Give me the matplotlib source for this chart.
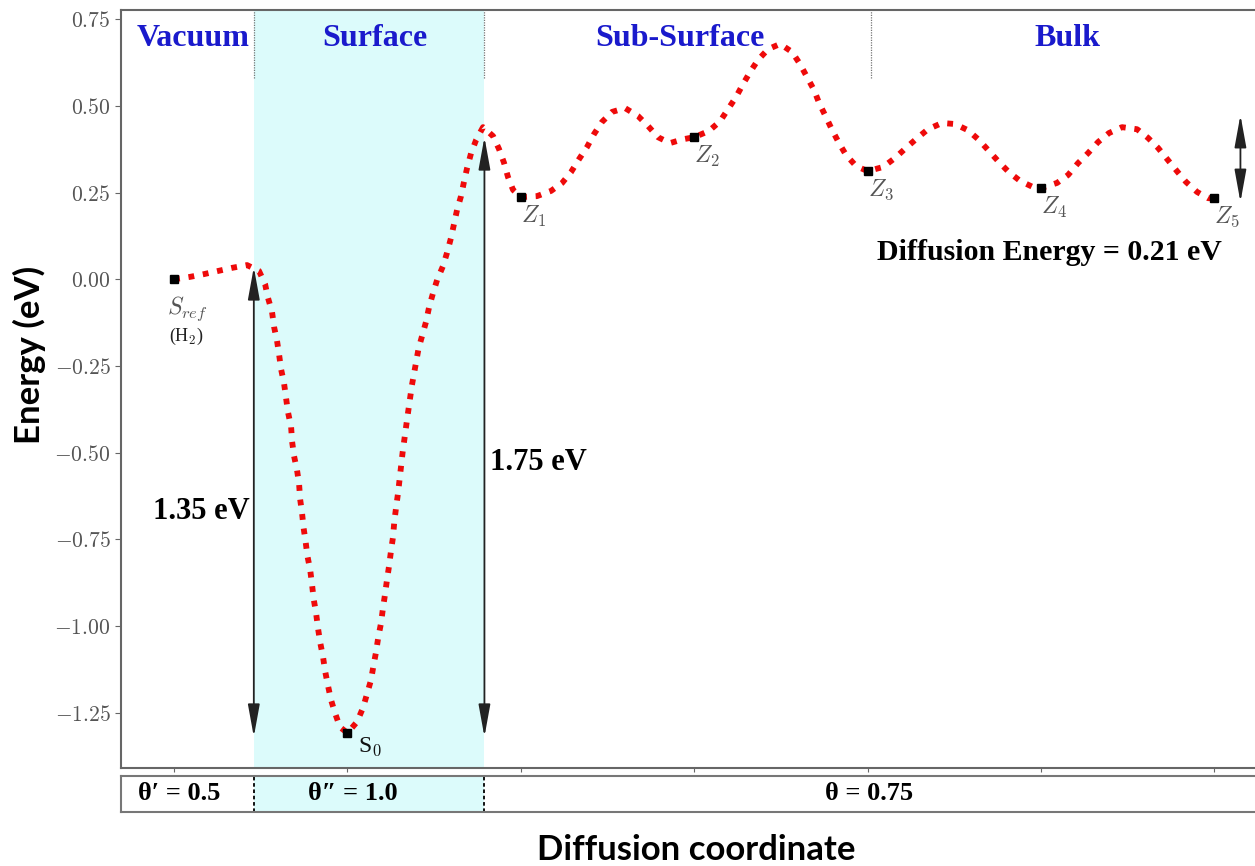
import matplotlib.pyplot as plt
from matplotlib.ticker import FuncFormatter

plt.rcParams['mathtext.fontset'] = 'cm'

# energy path (diffusion coordinate, energy in eV)
path_x = [0.0, 0.092, 0.173, 0.254, 0.334, 0.421, 0.490, 0.525, 0.542, 0.565,
          0.577, 0.594, 0.606, 0.617, 0.634, 0.646, 0.657, 0.675, 0.681, 0.692,
          0.709, 0.721, 0.727, 0.738, 0.747, 0.759, 0.769, 0.785, 0.796, 0.805,
          0.819, 0.830, 0.842, 0.859, 0.871, 0.888, 0.905, 0.928, 0.957, 1.0,
          1.055, 1.090, 1.113, 1.136, 1.150, 1.165, 1.178, 1.194, 1.205, 1.217,
          1.228, 1.240, 1.251, 1.263, 1.270, 1.280, 1.292, 1.318, 1.345, 1.372,
          1.410, 1.432, 1.453, 1.471, 1.494, 1.517, 1.551, 1.574, 1.597, 1.615,
          1.632, 1.655, 1.672, 1.690, 1.713, 1.742, 1.782, 1.840, 1.874, 1.903,
          1.926, 1.955, 2.0, 2.093, 2.174, 2.238, 2.289, 2.336, 2.382, 2.422,
          2.468, 2.526, 2.601, 2.676, 2.734, 2.791, 2.860, 2.935, 3.0, 3.085,
          3.149, 3.195, 3.241, 3.281, 3.322, 3.368, 3.426, 3.495, 3.564, 3.610,
          3.651, 3.691, 3.720, 3.760, 3.795, 3.835, 3.875, 3.933, 4.0, 4.089,
          4.158, 4.221, 4.285, 4.348, 4.429, 4.504, 4.579, 4.642, 4.700, 4.758,
          4.815, 4.879, 4.954, 5.0, 5.092, 5.156, 5.213, 5.271, 5.329, 5.392,
          5.467, 5.554, 5.617, 5.675, 5.727, 5.784, 5.836, 5.900, 5.963, 6.0]
path_y = [0.0, 0.007, 0.015, 0.024, 0.033, 0.041, 0.024, -0.014, -0.054, -0.094,
          -0.138, -0.178, -0.218, -0.259, -0.299, -0.342, -0.383, -0.426, -0.469, -0.510,
          -0.550, -0.590, -0.634, -0.674, -0.717, -0.758, -0.798, -0.838, -0.882, -0.922,
          -0.963, -1.006, -1.046, -1.089, -1.130, -1.173, -1.213, -1.251, -1.292, -1.309,
          -1.277, -1.236, -1.196, -1.156, -1.115, -1.075, -1.032, -0.991, -0.948, -0.908,
          -0.867, -0.827, -0.784, -0.743, -0.700, -0.660, -0.616, -0.500, -0.400, -0.305,
          -0.200, -0.160, -0.123, -0.080, -0.039, -0.002, 0.038, 0.076, 0.119, 0.160,
          0.200, 0.240, 0.281, 0.321, 0.364, 0.402, 0.439, 0.413, 0.376, 0.336,
          0.295, 0.258, 0.237, 0.240, 0.255, 0.278, 0.309, 0.347, 0.382, 0.419,
          0.454, 0.483, 0.494, 0.471, 0.442, 0.410, 0.393, 0.404, 0.410, 0.428,
          0.456, 0.491, 0.526, 0.563, 0.598, 0.633, 0.664, 0.679, 0.656, 0.621,
          0.583, 0.546, 0.509, 0.468, 0.431, 0.393, 0.359, 0.327, 0.312, 0.324,
          0.350, 0.379, 0.407, 0.433, 0.451, 0.448, 0.430, 0.402, 0.370, 0.338,
          0.309, 0.284, 0.266, 0.263, 0.278, 0.301, 0.335, 0.364, 0.396, 0.422,
          0.439, 0.433, 0.408, 0.379, 0.347, 0.312, 0.281, 0.252, 0.234, 0.234]

# stationary states
state_x = [0, 1, 2, 3, 4, 5, 6]
state_y = [0.0, -1.309, 0.237, 0.410, 0.312, 0.263, 0.234]
z_labels = ['$Z_1$', '$Z_2$', '$Z_3$', '$Z_4$', '$Z_5$']

# regions
region_edges = [0.46, 1.79, 4.02]
region_names = ['Vacuum', 'Surface', 'Sub-Surface', 'Bulk']
region_centers = [0.11, 1.16, 2.92, 5.15]
coverage_labels = ["\u03b8\u2032 = 0.5", "\u03b8\u2033 = 1.0", "\u03b8 = 0.75"]
coverage_centers = [0.03, 1.03, 4.01]

# energy arrows
barrier_vac = (0.46, 0.035, -1.32)
barrier_sub = (1.79, 0.41, -1.32)
diffusion = (6.15, 0.474, 0.223)

serif = ['Liberation Serif', 'DejaVu Serif']
sans = ['Lato', 'DejaVu Sans']
blue = '#1a1acc'
grey = '#555555'

fig = plt.figure(figsize=(12.55, 8.66), dpi=100)
ax = fig.add_axes([121 / 1255, 1 - 768 / 866, 1134 / 1255, 758 / 866])
ax2 = fig.add_axes([121 / 1255, 1 - 812 / 866, 1134 / 1255, 36 / 866])

ax.set_xlim(-0.306, 6.234)
ax.set_ylim(-1.41, 0.777)

ax.axvspan(region_edges[0], region_edges[1], color='#dcfbfb', zorder=0, lw=0)
for xe in region_edges:
    ax.plot([xe, xe], [0.58, 0.777], color='#777777', lw=0.9, ls=(0, (1, 1)))

ax.plot(path_x, path_y, color='#ee0a0a', lw=4.2, ls=(0, (1, 1.5)),
        dash_capstyle='butt', zorder=3)
ax.plot(state_x, state_y, 's', color='black', ms=5.5, zorder=4)

for name, xc in zip(region_names, region_centers):
    ax.text(xc, 0.695, name, color=blue, fontsize=23, fontweight='bold',
            family=serif, ha='center', va='center')

# state labels
ax.text(-0.04, -0.085, '$S_{ref}$', color=grey, fontsize=17, ha='left', va='center')
ax.text(-0.03, -0.165, '(H$_2$)', color='#222222', fontsize=13, family=serif,
        ha='left', va='center')
ax.text(1.06, -1.35, 'S$_0$', color='#111111', fontsize=17, family=serif,
        ha='left', va='center')
for xz, yz, lab in zip(state_x[2:], state_y[2:], z_labels):
    ax.annotate(lab, (xz, yz), xytext=(0, -5), textcoords='offset points',
                color=grey, fontsize=17, ha='left', va='top')

# arrows
arrow_kw = dict(arrowstyle='<|-|>,head_length=1.1,head_width=0.2',
                color='#222222', lw=1.3, shrinkA=0, shrinkB=0, mutation_scale=18)
for xa, ytop, ybot in [barrier_vac, barrier_sub, diffusion]:
    ax.annotate('', xy=(xa, ytop), xytext=(xa, ybot), arrowprops=arrow_kw)

ax.text(0.16, -0.67, '1.35 eV', fontsize=22, fontweight='bold', family=serif,
        ha='center', va='center')
ax.text(2.10, -0.53, '1.75 eV', fontsize=22, fontweight='bold', family=serif,
        ha='center', va='center')
ax.text(5.05, 0.078, 'Diffusion Energy = 0.21 eV', fontsize=21.5, fontweight='bold',
        family=serif, ha='center', va='center')

ax.set_xticks(state_x)
ax.set_xticklabels([])
ax.set_yticks([0.75, 0.5, 0.25, 0.0, -0.25, -0.5, -0.75, -1.0, -1.25])
ax.yaxis.set_major_formatter(FuncFormatter(lambda v, p: f'${v:.2f}$'))
ax.tick_params(axis='y', labelsize=15.5, labelcolor=grey, color='#666666', length=4)
ax.tick_params(axis='x', color='#666666', length=3)
for side in ['left', 'bottom', 'top']:
    ax.spines[side].set_color('#666666')
    ax.spines[side].set_linewidth(1.5)
ax.spines['right'].set_visible(False)

# coverage strip
ax2.set_xlim(-0.306, 6.234)
ax2.set_ylim(0, 1)
ax2.axvspan(region_edges[0], region_edges[1], color='#dcfbfb', zorder=0, lw=0)
for xe in region_edges[:2]:
    ax2.plot([xe, xe], [0, 1], color='black', lw=1.3, ls=(0, (2, 1.5)))
for lab, xc in zip(coverage_labels, coverage_centers):
    ax2.text(xc, 0.5, lab, fontsize=19, fontweight='bold', family=serif,
             ha='center', va='center')
ax2.set_xticks([])
ax2.set_yticks([])
for side in ['left', 'bottom', 'top']:
    ax2.spines[side].set_color('#777777')
    ax2.spines[side].set_linewidth(1.5)
ax2.spines['right'].set_visible(False)

fig.text(0.0235, 0.59, 'Energy (eV)', rotation=90, fontsize=25, fontweight='bold',
         family=sans, ha='center', va='center')
fig.text(0.555, 0.018, 'Diffusion coordinate', fontsize=25, fontweight='bold',
         family=sans, ha='center', va='center')

plt.savefig('out.png', dpi=100)
